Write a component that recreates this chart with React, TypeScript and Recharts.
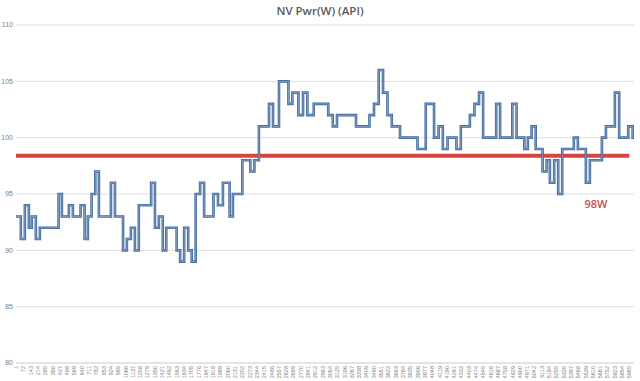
import React from "react";
import { LineChart, Line, XAxis, YAxis, CartesianGrid, ReferenceLine, ReferenceDot } from "recharts";

// sample index where each step starts, and the watt value from there on
const stepStarts = [
    1, 48, 87, 126, 155, 194, 233, 415, 447, 515, 554, 629, 668, 700, 736, 772, 807, 924, 963, 1042,
    1079, 1118, 1157, 1195, 1315, 1352, 1390, 1428, 1462, 1563, 1597, 1636, 1675, 1709, 1748, 1791, 1830, 1921, 1965, 2013,
    2078, 2110, 2202, 2280, 2319, 2363, 2461, 2500, 2558, 2650, 2688, 2747, 2792, 2834, 2896, 3037, 3081, 3122, 3307, 3438,
    3482, 3528, 3570, 3613, 3655, 3735, 3905, 3985, 4066, 4110, 4151, 4197, 4284, 4326, 4414, 4459, 4503, 4543, 4670, 4708,
    4827, 4868, 4944, 4978, 5014, 5054, 5121, 5160, 5192, 5234, 5273, 5312, 5425, 5464, 5542, 5581, 5698, 5737, 5824, 5866,
    5954, 5997, 6010,
];
const stepWatts = [
    93, 91, 94, 92, 93, 91, 92, 95, 93, 94, 93, 94, 91, 93, 95, 97, 93, 96, 93, 90,
    91, 92, 90, 94, 96, 92, 93, 90, 92, 90, 89, 92, 90, 89, 95, 96, 93, 95, 94, 96,
    93, 95, 98, 97, 98, 101, 103, 101, 105, 103, 104, 102, 104, 102, 103, 102, 101, 102, 101, 102,
    103, 106, 104, 102, 101, 100, 99, 103, 100, 101, 99, 100, 99, 101, 102, 103, 104, 100, 103, 100,
    103, 100, 99, 100, 101, 99, 97, 98, 96, 98, 95, 99, 100, 99, 96, 98, 100, 101, 104, 100,
    101, 100, 100,
];

const xTicks = [
    1, 72, 143, 214, 285, 356, 427, 498, 569, 640, 711, 782, 853, 924, 995, 1066, 1137, 1208, 1279, 1350,
    1421, 1492, 1563, 1634, 1705, 1776, 1847, 1918, 1989, 2060, 2131, 2202, 2273, 2344, 2415, 2486, 2557, 2628, 2699, 2770,
    2841, 2912, 2983, 3054, 3125, 3196, 3267, 3338, 3409, 3480, 3551, 3622, 3693, 3764, 3835, 3906, 3977, 4048, 4119, 4190,
    4261, 4332, 4403, 4474, 4545, 4616, 4687, 4758, 4829, 4900, 4971, 5042, 5113, 5184, 5255, 5326, 5397, 5468, 5539, 5610,
    5681, 5752, 5823, 5894, 5965,
];
const yTicks = [80, 85, 90, 95, 100, 105, 110];

const targetWatts = 98.4;
const targetLabel = "98W";

const data = stepStarts.map((s, i) => ({ s, w: stepWatts[i] }));

const XTick = (props: any) => {
    const { x, y, payload } = props;
    return (
        <text
            x={x}
            y={y}
            transform={`rotate(-90 ${x} ${y})`}
            textAnchor="end"
            dominantBaseline="central"
            fontSize={5.5}
            fill="#7f7f7f"
            fontFamily="Liberation Sans, Arial, sans-serif"
        >
            {payload.value}
        </text>
    );
};

const App = () => {
    return (
        <div style={{ position: "absolute", left: 0, top: 0, width: 640, height: 381, background: "#fff" }}>
            <div
                style={{
                    position: "absolute",
                    left: 0,
                    top: 3,
                    width: 640,
                    textAlign: "center",
                    fontFamily: "'Open Sans', sans-serif",
                    fontSize: 11.5,
                    fontWeight: 600,
                    color: "#595959",
                }}
            >
                NV Pwr(W) (API)
            </div>
            <LineChart width={640} height={381} data={data} margin={{ top: 25, right: 6, bottom: 0, left: 0 }}>
                <CartesianGrid vertical={false} stroke="#dedede" />
                <XAxis
                    dataKey="s"
                    type="number"
                    domain={[1, 6010]}
                    ticks={xTicks}
                    interval={0}
                    tick={<XTick />}
                    tickLine={false}
                    tickSize={0}
                    axisLine={{ stroke: "#d9d9d9" }}
                    height={18}
                    tickMargin={3}
                />
                <YAxis
                    type="number"
                    domain={[80, 110]}
                    ticks={yTicks}
                    width={16}
                    tickLine={false}
                    tickSize={0}
                    axisLine={false}
                    tickMargin={3}
                    tick={{ fontSize: 7, fill: "#7f7f7f", fontFamily: "Liberation Sans, Arial, sans-serif" }}
                />
                <ReferenceLine
                    segment={[{ x: 1, y: targetWatts }, { x: 5965, y: targetWatts }]}
                    stroke="#d9453d"
                    strokeWidth={4}
                />
                <Line
                    type="stepAfter"
                    dataKey="w"
                    stroke="#416a9c"
                    strokeWidth={2.6}
                    dot={false}
                    isAnimationActive={false}
                />
                <Line
                    type="stepAfter"
                    dataKey="w"
                    stroke="#a9bed8"
                    strokeWidth={0.6}
                    dot={false}
                    isAnimationActive={false}
                />
                <ReferenceDot
                    x={5640}
                    y={94.1}
                    r={0}
                    label={{ value: targetLabel, position: "center", fill: "#c0504d", fontSize: 11, fontFamily: "'Open Sans', sans-serif", fontWeight: 600 }}
                />
            </LineChart>
        </div>
    );
};

export default App;
